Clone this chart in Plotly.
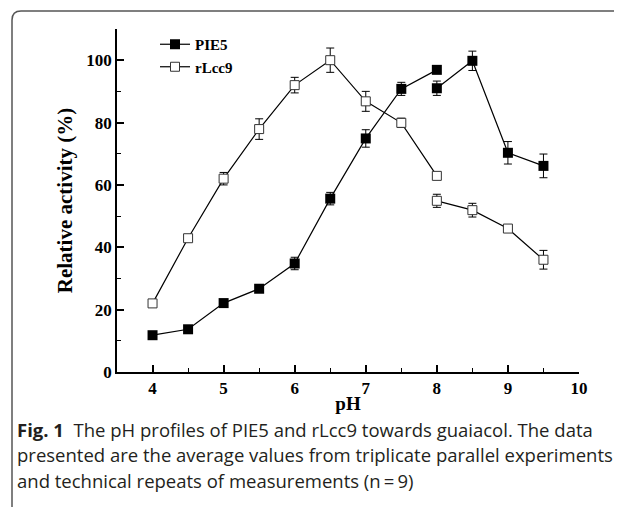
import plotly.graph_objects as go

# pH values (two buffer systems overlap at pH 8 -> line break)
ph = [4, 4.5, 5, 5.5, 6, 6.5, 7, 7.5, 8, None, 8, 8.5, 9, 9.5]
pie5 = [11.8, 13.7, 22.1, 26.7, 34.8, 55.6, 74.9, 90.8, 96.9, None, 91.0, 99.8, 70.3, 66.1]
pie5_err = [0.6, 1.0, 0.8, 1.0, 2.0, 2.0, 2.8, 2.1, 0.6, None, 2.3, 3.1, 3.6, 3.8]
rlcc9 = [22.0, 42.9, 62.0, 77.9, 92.0, 100.0, 86.8, 79.9, 62.9, None, 54.9, 51.9, 46.0, 36.0]
rlcc9_err = [0.6, 0.8, 2.0, 3.3, 2.5, 3.9, 3.2, 1.5, 0.6, None, 2.1, 2.2, 1.0, 3.0]

x_ticks = [4, 5, 6, 7, 8, 9, 10]
y_ticks = [0, 20, 40, 60, 80, 100]

caption_lines = [
    "<b>Fig. 1</b>  The pH profiles of PIE5 and rLcc9 towards guaiacol. The data",
    "presented are the average values from triplicate parallel experiments",
    "and technical repeats of measurements (n\u2009=\u20099)",
]

# page has an 8px body margin; figure is sized to fill the rest of the window
OFF = 8
W, H = 622 - OFF, 507 - OFF
L, R, T, B = 117 - OFF, 43, 29 - OFF, 135
pw, ph_ = W - L - R, H - T - B


def px(xp):
    return (xp - OFF - L) / pw


def py(yp):
    return (H - B - (yp - OFF)) / ph_


serif = "Liberation Serif"

fig = go.Figure()
fig.add_trace(go.Scatter(
    x=ph, y=pie5, name="PIE5", mode="lines+markers",
    line=dict(color="black", width=1.2),
    marker=dict(symbol="square", size=10, color="black", line=dict(color="black", width=0)),
    error_y=dict(type="data", array=pie5_err, visible=True, color="black", thickness=1, width=4),
))
fig.add_trace(go.Scatter(
    x=ph, y=rlcc9, name="rLcc9", mode="lines+markers",
    line=dict(color="black", width=1.2),
    marker=dict(symbol="square", size=9, color="white", line=dict(color="#333", width=1)),
    error_y=dict(type="data", array=rlcc9_err, visible=True, color="black", thickness=1, width=4),
))

axis_common = dict(
    showgrid=False, zeroline=False, showline=True, linecolor="black", linewidth=1.5,
    ticks="inside", ticklen=7, tickwidth=1.5, tickcolor="black",
    tickfont=dict(family=serif, size=17, color="black", weight="bold"),
)

fig.update_xaxes(
    range=[3.5, 10], tickvals=x_ticks, ticktext=[str(v) for v in x_ticks],
    minor=dict(ticks="inside", ticklen=4, tickwidth=1.2, dtick=0.5, tick0=3.5, tickcolor="black"),
    title=dict(text="<b>pH</b>", font=dict(family=serif, size=19, color="black"), standoff=0),
    **axis_common,
)
fig.update_yaxes(
    range=[0, 110], tickvals=y_ticks, ticktext=[str(v) for v in y_ticks],
    minor=dict(ticks="inside", ticklen=4, tickwidth=1.2, dtick=10, tick0=0, tickcolor="black"),
    title=dict(text="<b>Relative activity (%)</b>", font=dict(family=serif, size=21, color="black"), standoff=8),
    **axis_common,
)

annotations = []
ys = [429, 454.5, 480]
for line, yy in zip(caption_lines, ys):
    annotations.append(dict(
        xref="paper", yref="paper", x=px(15), y=py(yy), xanchor="left", yanchor="middle",
        text=line, showarrow=False, align="left",
        font=dict(family="Open Sans", size=18.5, color="#231f20"),
    ))

border = (f"M {px(12)} {py(507)} L {px(12)} {py(20)} "
          f"Q {px(12)} {py(11)} {px(21)} {py(11)} L {px(622)} {py(11)}")

fig.update_layout(
    width=W, height=H,
    margin=dict(l=L, r=R, t=T, b=B),
    paper_bgcolor="white", plot_bgcolor="white",
    showlegend=True,
    legend=dict(x=px(155), y=py(28), xanchor="left", yanchor="top",
                bgcolor="rgba(0,0,0,0)", tracegroupgap=0,
                font=dict(family=serif, size=15, color="black", weight="bold")),
    annotations=annotations,
    shapes=[dict(type="path", xref="paper", yref="paper", path=border,
                 line=dict(color="#555", width=1.5))],
)

fig.write_html("out.html")
